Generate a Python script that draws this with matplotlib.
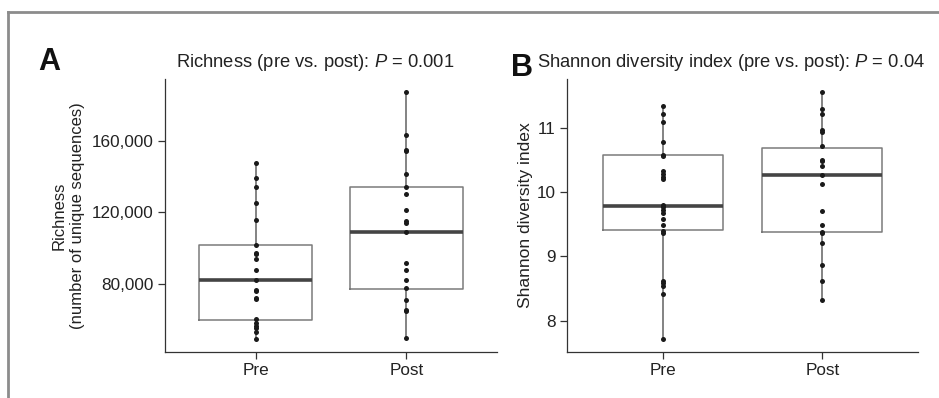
import matplotlib
matplotlib.use("Agg")
import matplotlib.pyplot as plt
from matplotlib.lines import Line2D

plt.rcParams['font.family'] = ['Liberation Sans', 'DejaVu Sans']
plt.rcParams['mathtext.fontset'] = 'custom'
plt.rcParams['mathtext.it'] = 'Liberation Sans:italic'
plt.rcParams['mathtext.rm'] = 'Liberation Sans'

groups = ['Pre', 'Post']

# richness values (number of unique sequences)
rich_pre = [147500, 139500, 134300, 125300, 115900, 101700, 97200, 96500, 93900,
            87500, 82300, 76300, 75700, 72000, 71400, 60200, 58000, 56500, 55000,
            52700, 48800]
rich_post = [187700, 163600, 155200, 154600, 141500, 134300, 130500, 121200, 115200,
             114200, 109200, 91400, 87500, 82300, 77600, 70700, 65200, 64700, 49500]

# shannon diversity index
shan_pre = [11.34, 11.21, 11.09, 10.77, 10.58, 10.56, 10.32, 10.28, 10.23, 10.20,
            9.80, 9.77, 9.72, 9.67, 9.58, 9.48, 9.40, 9.37, 8.62, 8.58, 8.54, 8.42, 7.71]
shan_post = [11.56, 11.29, 11.21, 10.96, 10.94, 10.71, 10.50, 10.48, 10.40, 10.27,
             10.12, 9.71, 9.49, 9.38, 9.36, 9.21, 8.86, 8.61, 8.32]

# box summaries as drawn (pre, post)
rich_q1 = [59500, 77200]
rich_med = [81900, 109200]
rich_q3 = [101900, 134400]
shan_q1 = [9.41, 9.38]
shan_med = [9.79, 10.27]
shan_q3 = [10.57, 10.69]

rich_ticks = [80000, 120000, 160000]
shan_ticks = [8, 9, 10, 11]

fig = plt.figure(figsize=(9.39, 3.98), dpi=100)
axA = fig.add_axes([165/939, 1-351.7/398, 332/939, 272.4/398])
axB = fig.add_axes([567/939, 1-351.7/398, 351/939, 272.4/398])

def panel(ax, pre, post, q1, med, q3):
    data = [pre, post]
    stats = []
    for i in range(2):
        stats.append(dict(med=med[i], q1=q1[i], q3=q3[i],
                          whislo=min(data[i]), whishi=max(data[i]), fliers=[]))
    ax.bxp(stats, positions=[1, 2], widths=0.75, showcaps=False, showfliers=False,
           boxprops=dict(color='#7a7a7a', linewidth=1.1),
           whiskerprops=dict(color='#7a7a7a', linewidth=1.3),
           medianprops=dict(color='#444444', linewidth=2.6))
    for i in range(2):
        ax.plot([i+1]*len(data[i]), data[i], 'o', color='#1a1a1a', ms=3.6,
                mec='none', zorder=5)
    lo = min(min(pre), min(post))
    hi = max(max(pre), max(post))
    pad = (hi - lo) * 0.05
    ax.set_ylim(lo - pad, hi + pad)
    ax.set_xlim(0.4, 2.6)
    ax.set_xticks([1, 2])
    ax.set_xticklabels(groups)
    for s in ['top', 'right']:
        ax.spines[s].set_visible(False)
    for s in ['left', 'bottom']:
        ax.spines[s].set_color('#333333')
        ax.spines[s].set_linewidth(0.9)
    ax.tick_params(length=5, width=0.9, color='#333333', labelsize=12.3,
                   labelcolor='#222222', pad=3)

panel(axA, rich_pre, rich_post, rich_q1, rich_med, rich_q3)
axA.set_yticks(rich_ticks)
axA.set_yticklabels(['{:,}'.format(t) for t in rich_ticks])
axA.set_ylabel('Richness\n(number of unique sequences)', fontsize=12,
               color='#222222', labelpad=5, linespacing=1.25)

panel(axB, shan_pre, shan_post, shan_q1, shan_med, shan_q3)
axB.set_yticks(shan_ticks)
axB.set_ylabel('Shannon diversity index', fontsize=12.6, color='#222222', labelpad=3)

fig.text(38/939, 1-70/398, 'A', fontsize=22, fontweight='bold', color='#111111')
fig.text(511/939, 1-76/398, 'B', fontsize=22, fontweight='bold', color='#111111')
fig.text(176/939, 1-67/398, 'Richness (pre vs. post): $P$ = 0.001', fontsize=13.2,
         color='#222222')
fig.text(537/939, 1-67/398, 'Shannon diversity index (pre vs. post): $P$ = 0.04',
         fontsize=13.2, color='#222222')

# gray frame edges
fig.add_artist(Line2D([8/939, 1], [1-12/398, 1-12/398], color='#8c8c8c', lw=2))
fig.add_artist(Line2D([8/939, 8/939], [0, 1-12/398], color='#8c8c8c', lw=2))

fig.savefig('out.png', dpi=100)
